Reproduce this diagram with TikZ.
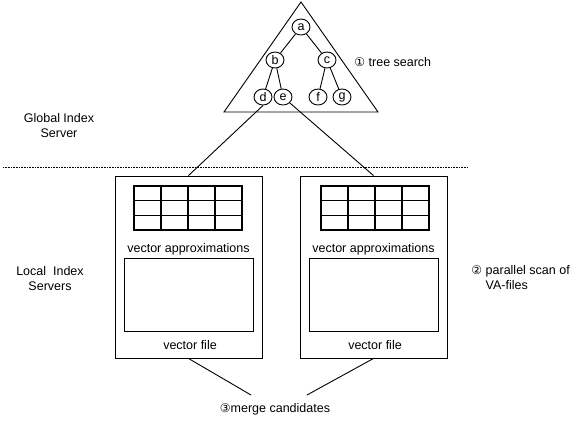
\documentclass[tikz,border=0pt]{standalone}
\usepackage{fontspec}
\setmainfont{Liberation Sans}
\newfontfamily\circfont{DejaVu Sans}
\usetikzlibrary{shapes.geometric}
\newcommand{\circnum}[1]{{\circfont\fontsize{12}{12}\selectfont #1}}

\begin{document}
\begin{tikzpicture}[x=1pt,y=-1pt,line width=0.9pt,
		every node/.style={font=\fontsize{12.5}{15}\selectfont},
		treenode/.style={draw,ellipse,minimum width=18pt,minimum height=16pt,inner sep=0pt},
		server/.style={draw,minimum width=147pt,minimum height=182pt,inner sep=0pt},
		label/.style={inner sep=0pt},
		cell/.style={line width=1.1pt}]
	\useasboundingbox (0,0) rectangle (575,421);
	% global index server: search tree
	\draw (301,2) -- (378,112) -- (224,112) -- cycle;
	\node[treenode] (a) at (301,27) {a};
	\node[treenode] (b) at (275,60) {b};
	\node[treenode] (c) at (327,60) {c};
	\node[treenode] (d) at (263,97) {d};
	\node[treenode] (e) at (283,97) {e};
	\node[treenode] (f) at (318,97) {f};
	\node[treenode] (g) at (342,97) {g};
	\draw (a) -- (b);
	\draw (a) -- (c);
	\draw (b) -- (d);
	\draw (b) -- (e);
	\draw (c) -- (f);
	\draw (c) -- (g);
	\node[label,anchor=west] (tree) at (354,62) {\circnum{①} tree search};
	\node[label,align=center] (global) at (59,125.5) {Global Index\\Server};
	% separator
	\coordinate (sepl) at (3,167);
	\coordinate (sepr) at (468,167);
	\draw[densely dotted,line width=0.6pt] (sepl) -- (sepr);
	% local index servers
	\node[label,align=center] (local) at (50,279) {Local\ \ Index\\Servers};
	\node[server] (srva) at (188.5,267) {};
	\node[server] (srvb) at (373.5,267) {};
	\foreach \n/\cx/\gx in {a/188.5/134,b/373.5/321} {
		\foreach \i in {0,...,3}
			\foreach \j in {0,1,2}
				\draw[cell] (\gx+\i*27,186+\j*14.667) rectangle ++(27,14.667);
		\node[label] (approx\n) at (\cx,249) {vector approximations};
		\draw (\cx-64.5,258) rectangle (\cx+64.5,331);
		\node[label] (vfile\n) at (\cx+1.5,345) {vector file};
	}
	\draw (d.south) -- (srva.north);
	\draw (e) -- (srvb.north);
	\node[label,anchor=west,align=left] (scan) at (471,277.5) {\circnum{②} parallel scan of\\\phantom{\circnum{②} }VA-files};
	% merge
	\coordinate (mrga) at (251,395);
	\coordinate (mrgb) at (307,395);
	\draw (srva.south) -- (mrga);
	\draw (srvb.south) -- (mrgb);
	\node[label] (merge) at (275,409) {\circnum{③}merge candidates};
\end{tikzpicture}
\end{document}
